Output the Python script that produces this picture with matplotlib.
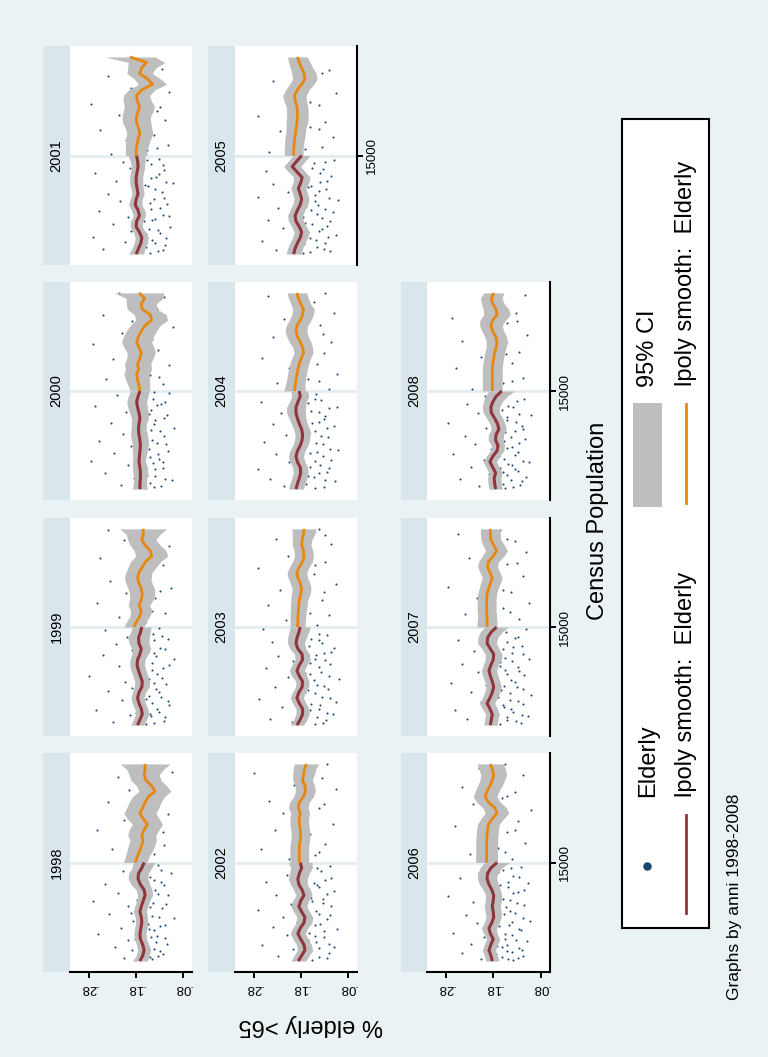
import numpy as np
import matplotlib.pyplot as plt
from matplotlib.patches import Rectangle

plt.rcParams['font.family'] = ['Liberation Sans', 'DejaVu Sans']

# ---------------- data ----------------
years = [1998, 1999, 2000, 2001, 2002, 2003, 2004, 2005, 2006, 2007, 2008]

# population grid of the two local-polynomial fits (below / above 15000)
red_pop = [6000, 6500, 7000, 7500, 8000, 8500, 9000, 9500, 10000, 10500,
           11000, 11500, 12000, 12500, 13000, 13500, 14000, 14500, 15000]
orange_pop = [15000, 15500, 16000, 16500, 17000, 17500, 18000, 18500, 19000, 19500,
              20000, 20500, 21000, 21500, 22000, 22500, 23000, 23500, 24000]

red_fit = {
    1998: [.171, .165, .162, .165, .170, .171, .169, .167, .168, .171, .168, .164, .160, .162, .170, .175, .174, .167, .162],
    1999: [.176, .171, .166, .168, .173, .176, .173, .167, .166, .170, .174, .177, .176, .171, .168, .173, .174, .170, .167],
    2000: [.171, .171, .170, .170, .171, .173, .172, .171, .170, .171, .173, .174, .173, .171, .173, .176, .178, .175, .171],
    2001: [.179, .174, .169, .167, .172, .179, .178, .172, .175, .181, .179, .175, .177, .179, .179, .177, .175, .176, .178],
    2002: [.185, .178, .171, .173, .180, .186, .181, .173, .171, .178, .184, .180, .173, .177, .184, .186, .183, .178, .181],
    2003: [.188, .181, .176, .176, .183, .188, .184, .177, .176, .183, .188, .183, .176, .177, .186, .190, .188, .184, .181],
    2004: [.190, .187, .183, .180, .181, .187, .190, .187, .181, .177, .176, .178, .183, .187, .190, .190, .186, .181, .183],
    2005: [.195, .192, .187, .181, .178, .183, .190, .192, .187, .181, .178, .181, .185, .180, .177, .188, .198, .188, .178],
    2006: [.182, .185, .189, .185, .180, .186, .189, .183, .179, .180, .182, .180, .179, .183, .189, .193, .192, .185, .172],
    2007: [.186, .184, .182, .187, .193, .187, .182, .179, .182, .186, .189, .185, .180, .179, .186, .193, .192, .185, .173],
    2008: [.175, .177, .178, .175, .181, .187, .181, .172, .170, .175, .174, .168, .171, .177, .184, .185, .181, .174, .162],
}
orange_fit = {
    1998: [.181, .177, .172, .168, .164, .167, .162, .155, .164, .171, .165, .160, .153, .139, .146, .158, .162, .160, .160],
    1999: [.184, .178, .171, .168, .173, .168, .166, .168, .173, .176, .173, .166, .159, .146, .149, .160, .167, .164, .164],
    2000: [.171, .173, .176, .178, .174, .176, .171, .168, .173, .178, .174, .168, .160, .146, .149, .166, .168, .161, .173],
    2001: [.179, .179, .177, .175, .171, .174, .178, .179, .175, .172, .177, .178, .167, .144, .155, .172, .167, .157, .192],
    2002: [.183, .183, .183, .183, .181, .180, .181, .183, .183, .181, .185, .183, .174, .170, .171, .176, .174, .172, .168],
    2003: [.187, .186, .186, .185, .184, .183, .180, .178, .181, .186, .188, .183, .176, .173, .174, .178, .177, .174, .173],
    2004: [.193, .192, .190, .188, .186, .183, .179, .174, .176, .181, .187, .190, .188, .181, .176, .174, .180, .185, .188],
    2005: [.195, .195, .194, .193, .191, .190, .188, .187, .187, .188, .192, .193, .187, .178, .171, .173, .178, .183, .187],
    2006: [.194, .194, .194, .194, .194, .193, .192, .190, .182, .172, .177, .190, .197, .193, .187, .182, .179, .182, .186],
    2007: [.193, .193, .193, .194, .194, .194, .193, .190, .186, .182, .187, .192, .190, .180, .173, .179, .185, .186, .186],
    2008: [.182, .182, .182, .182, .182, .181, .179, .177, .174, .172, .175, .181, .185, .181, .172, .174, .181, .184, .179],
}
# half widths of the 95% CI
red_ci = {
    1998: [.016, .014, .014, .013, .013, .013, .013, .013, .013, .014, .014, .014, .016, .017, .020, .021, .021, .021, .023],
    1999: [.014, .014, .014, .014, .014, .014, .014, .016, .016, .016, .016, .016, .016, .017, .020, .021, .023, .021, .020],
    2000: [.016, .014, .014, .016, .016, .014, .014, .016, .017, .018, .018, .016, .016, .018, .020, .021, .021, .021, .020],
    2001: [.016, .014, .014, .014, .013, .013, .013, .013, .014, .014, .013, .013, .013, .014, .014, .014, .014, .016, .018],
    2002: [.016, .016, .016, .016, .016, .016, .016, .017, .017, .017, .017, .017, .017, .018, .018, .020, .021, .023, .025],
    2003: [.014, .014, .014, .014, .014, .014, .014, .014, .014, .016, .016, .016, .016, .016, .017, .018, .020, .021, .021],
    2004: [.016, .016, .016, .016, .016, .016, .016, .016, .016, .016, .016, .017, .017, .018, .020, .020, .018, .018, .018],
    2005: [.016, .016, .016, .016, .016, .016, .016, .016, .016, .016, .016, .016, .016, .017, .017, .018, .018, .018, .018],
    2006: [.014, .014, .014, .014, .014, .014, .016, .016, .016, .017, .017, .017, .017, .018, .020, .020, .021, .023, .027],
    2007: [.014, .014, .014, .016, .016, .016, .016, .016, .016, .016, .016, .016, .017, .018, .018, .020, .021, .023, .025],
    2008: [.014, .014, .014, .014, .014, .014, .014, .014, .014, .016, .016, .016, .016, .017, .017, .018, .020, .023, .027],
}
orange_ci = {
    1998: [.025, .025, .027, .028, .028, .030, .032, .032, .034, .034, .034, .034, .034, .034, .032, .032, .032, .039, .053],
    1999: [.021, .021, .021, .023, .023, .025, .027, .028, .028, .028, .028, .030, .032, .034, .034, .032, .030, .036, .050],
    2000: [.021, .023, .025, .027, .028, .028, .028, .030, .032, .032, .032, .032, .032, .034, .034, .032, .032, .039, .053],
    2001: [.023, .023, .025, .027, .028, .028, .030, .030, .032, .032, .030, .028, .028, .030, .028, .027, .030, .039, .053],
    2002: [.020, .020, .020, .020, .020, .020, .020, .020, .020, .020, .021, .021, .021, .021, .021, .021, .023, .024, .026],
    2003: [.016, .016, .017, .017, .018, .018, .020, .020, .021, .021, .021, .021, .021, .020, .020, .020, .021, .024, .026],
    2004: [.023, .021, .020, .020, .020, .020, .020, .020, .021, .023, .023, .023, .023, .023, .023, .023, .021, .021, .021],
    2005: [.020, .020, .020, .021, .021, .021, .023, .023, .023, .023, .024, .025, .025, .026, .026, .026, .024, .023, .021],
    2006: [.023, .023, .023, .023, .023, .023, .023, .023, .024, .025, .025, .025, .025, .025, .026, .026, .027, .028, .028],
    2007: [.021, .021, .020, .020, .020, .020, .020, .020, .021, .021, .021, .021, .021, .023, .023, .023, .021, .021, .021],
    2008: [.021, .021, .021, .021, .021, .021, .021, .021, .021, .023, .023, .023, .024, .027, .028, .027, .024, .023, .021],
}

# scattered observations: (population in thousands, share elderly)
dots = {
    1998: [(6.3, .205), (6.4, .150), (6.5, .132), (6.6, .121), (6.8, .168), (7.0, .188), (7.1, .142), (7.3, .225), (7.5, .155), (7.7, .137),
           (7.9, .196), (8.1, .118), (8.2, .148), (8.5, .260), (8.7, .176), (8.8, .140), (9.0, .211), (9.2, .129), (9.4, .153), (9.7, .185),
           (9.9, .099), (10.1, .146), (10.3, .236), (10.6, .160), (10.8, .124), (11.0, .197), (11.3, .143), (11.5, .270), (11.8, .151), (12.0, .112),
           (12.2, .218), (12.5, .138), (12.8, .172), (13.0, .245), (13.2, .127), (13.5, .190), (13.7, .150), (14.0, .105), (14.2, .208), (14.5, .158),
           (14.8, .133), (15.3, .198), (15.8, .140), (16.2, .230), (16.6, .120), (17.1, .185), (17.5, .145), (18.0, .262), (18.4, .132), (18.9, .205),
           (19.4, .112), (19.9, .178), (20.5, .240), (21.0, .128), (21.6, .195), (22.2, .150), (22.8, .218), (23.3, .102), (23.8, .170)],
    1999: [(6.2, .140), (6.3, .228), (6.5, .162), (6.7, .118), (6.9, .193), (7.0, .150), (7.2, .131), (7.4, .265), (7.6, .177), (7.8, .108),
           (8.0, .145), (8.3, .210), (8.4, .159), (8.6, .126), (8.9, .184), (9.1, .239), (9.3, .137), (9.5, .170), (9.8, .115), (10.0, .203),
           (10.2, .152), (10.5, .280), (10.7, .134), (10.9, .181), (11.2, .122), (11.4, .215), (11.7, .146), (11.9, .165), (12.1, .098), (12.4, .250),
           (12.6, .141), (12.9, .188), (13.1, .128), (13.4, .222), (13.6, .157), (13.9, .112), (14.1, .199), (14.4, .143), (14.7, .245), (14.9, .130),
           (15.4, .160), (15.9, .215), (16.3, .118), (16.8, .178), (17.2, .262), (17.7, .138), (18.1, .200), (18.6, .105), (19.2, .235), (19.6, .150),
           (20.1, .185), (20.7, .122), (21.3, .255), (21.8, .165), (22.4, .110), (23.0, .205), (23.5, .142), (23.9, .240)],
    2000: [(6.1, .160), (6.3, .127), (6.4, .212), (6.6, .149), (6.8, .103), (7.0, .183), (7.2, .138), (7.5, .245), (7.7, .158), (7.9, .121),
           (8.2, .197), (8.4, .143), (8.6, .275), (8.8, .131), (9.0, .170), (9.3, .226), (9.5, .112), (9.7, .152), (10.0, .190), (10.2, .135),
           (10.4, .258), (10.7, .165), (10.9, .119), (11.1, .207), (11.4, .147), (11.6, .099), (11.9, .178), (12.1, .232), (12.3, .139), (12.6, .161),
           (12.8, .114), (13.1, .201), (13.3, .148), (13.6, .267), (13.8, .126), (14.1, .180), (14.3, .144), (14.6, .219), (14.8, .108), (15.2, .175),
           (15.6, .122), (16.1, .243), (16.5, .150), (17.0, .198), (17.4, .110), (17.9, .228), (18.3, .165), (18.8, .132), (19.3, .270), (19.8, .145),
           (20.3, .210), (20.9, .100), (21.4, .188), (22.0, .250), (22.5, .135), (23.1, .172), (23.6, .120), (24.0, .215)],
    2001: [(6.2, .185), (6.3, .133), (6.5, .250), (6.6, .157), (6.8, .117), (7.1, .203), (7.3, .145), (7.4, .170), (7.6, .272), (7.9, .128),
           (8.1, .190), (8.3, .151), (8.5, .106), (8.7, .229), (9.0, .162), (9.2, .138), (9.4, .196), (9.6, .121), (9.9, .258), (10.1, .148),
           (10.3, .177), (10.6, .113), (10.8, .214), (11.0, .141), (11.3, .168), (11.5, .240), (11.7, .125), (12.0, .186), (12.2, .153), (12.5, .100),
           (12.7, .222), (13.0, .136), (13.2, .174), (13.4, .266), (13.7, .119), (13.9, .193), (14.2, .147), (14.4, .208), (14.7, .130), (15.1, .232),
           (15.5, .155), (16.0, .112), (16.4, .200), (16.9, .140), (17.3, .255), (17.8, .170), (18.2, .118), (18.7, .215), (19.1, .135), (19.7, .275),
           (20.2, .160), (20.8, .108), (21.2, .190), (21.9, .142), (22.3, .238), (22.9, .125), (23.4, .178), (23.8, .205)],
    2002: [(6.2, .172), (6.4, .140), (6.5, .228), (6.7, .120), (6.9, .158), (7.1, .196), (7.3, .110), (7.5, .262), (7.7, .147), (8.0, .183),
           (8.2, .131), (8.4, .210), (8.6, .163), (8.9, .102), (9.1, .240), (9.3, .150), (9.6, .188), (9.8, .125), (10.0, .218), (10.3, .142),
           (10.5, .176), (10.7, .271), (11.0, .115), (11.2, .200), (11.5, .155), (11.7, .133), (12.0, .232), (12.2, .168), (12.4, .108), (12.7, .190),
           (12.9, .145), (13.2, .255), (13.4, .128), (13.7, .180), (13.9, .210), (14.2, .137), (14.4, .162), (14.7, .118), (15.3, .205), (15.7, .150),
           (16.2, .265), (16.7, .128), (17.1, .190), (17.6, .160), (18.0, .235), (18.5, .112), (19.0, .178), (19.5, .218), (20.0, .140), (20.6, .248),
           (21.1, .170), (21.7, .105), (22.1, .195), (22.7, .135), (23.2, .280), (23.7, .158), (24.0, .125)],
    2003: [(6.1, .150), (6.3, .198), (6.5, .127), (6.6, .245), (6.8, .166), (7.0, .112), (7.3, .185), (7.5, .141), (7.7, .220), (7.9, .158),
           (8.1, .104), (8.4, .268), (8.6, .134), (8.8, .192), (9.0, .170), (9.3, .122), (9.5, .235), (9.7, .146), (10.0, .180), (10.2, .099),
           (10.4, .207), (10.7, .160), (10.9, .137), (11.2, .255), (11.4, .175), (11.6, .118), (11.9, .196), (12.1, .149), (12.3, .228), (12.6, .130),
           (12.8, .186), (13.1, .108), (13.3, .163), (13.6, .242), (13.8, .140), (14.1, .202), (14.3, .125), (14.6, .172), (14.8, .260), (15.2, .145),
           (15.6, .212), (16.1, .120), (16.6, .185), (17.0, .250), (17.5, .135), (18.0, .170), (18.4, .225), (18.9, .105), (19.4, .195), (19.9, .152),
           (20.4, .270), (21.0, .128), (21.5, .208), (22.0, .162), (22.6, .115), (23.1, .232), (23.6, .180), (24.0, .140)],
    2004: [(6.2, .130), (6.3, .215), (6.5, .168), (6.7, .107), (6.9, .245), (7.1, .152), (7.3, .190), (7.6, .125), (7.8, .270), (8.0, .160),
           (8.2, .138), (8.5, .205), (8.7, .115), (8.9, .178), (9.2, .232), (9.4, .145), (9.6, .100), (9.9, .195), (10.1, .133), (10.3, .258),
           (10.6, .170), (10.8, .121), (11.0, .212), (11.3, .150), (11.5, .185), (11.8, .109), (12.0, .240), (12.2, .142), (12.5, .176), (12.7, .128),
           (13.0, .221), (13.2, .159), (13.5, .103), (13.7, .198), (14.0, .265), (14.2, .136), (14.5, .182), (14.7, .148), (15.2, .120), (15.7, .230),
           (16.1, .165), (16.6, .102), (17.1, .205), (17.5, .145), (18.0, .262), (18.5, .130), (19.0, .188), (19.5, .115), (20.0, .240), (20.5, .172),
           (21.1, .138), (21.6, .215), (22.2, .110), (22.6, .195), (23.2, .152), (23.7, .250), (24.0, .128)],
    2005: [(6.1, .175), (6.3, .118), (6.4, .232), (6.6, .146), (6.8, .200), (7.0, .129), (7.2, .262), (7.5, .160), (7.7, .105), (7.9, .188),
           (8.1, .140), (8.4, .218), (8.6, .124), (8.8, .170), (9.1, .250), (9.3, .135), (9.5, .195), (9.8, .112), (10.0, .158), (10.2, .228),
           (10.5, .143), (10.7, .180), (10.9, .100), (11.2, .272), (11.4, .150), (11.7, .208), (11.9, .127), (12.1, .165), (12.4, .238), (12.6, .139),
           (12.9, .192), (13.1, .116), (13.3, .175), (13.6, .255), (13.8, .132), (14.1, .210), (14.3, .152), (14.6, .108), (14.8, .185), (15.3, .248),
           (15.8, .135), (16.2, .195), (16.7, .112), (17.2, .225), (17.6, .160), (18.1, .128), (18.6, .270), (19.1, .175), (19.6, .140), (20.1, .212),
           (20.7, .105), (21.2, .185), (21.8, .240), (22.3, .150), (22.8, .120), (23.3, .200), (23.8, .168)],
    2006: [(6.1, .138), (6.2, .205), (6.4, .162), (6.5, .118), (6.7, .245), (6.9, .150), (7.1, .185), (7.2, .126), (7.4, .172), (7.6, .228),
           (7.8, .108), (8.0, .156), (8.2, .199), (8.4, .140), (8.6, .265), (8.8, .121), (9.0, .178), (9.3, .147), (9.5, .215), (9.7, .102),
           (10.0, .167), (10.2, .238), (10.4, .133), (10.7, .190), (10.9, .154), (11.1, .115), (11.4, .222), (11.6, .145), (11.9, .275), (12.1, .168),
           (12.3, .128), (12.6, .200), (12.8, .148), (13.1, .106), (13.3, .186), (13.6, .250), (13.8, .138), (14.0, .210), (14.3, .160), (14.6, .122),
           (14.8, .195), (15.3, .140), (15.8, .230), (16.3, .170), (16.8, .112), (17.3, .205), (17.8, .150), (18.3, .260), (18.8, .128), (19.3, .188),
           (19.8, .100), (20.3, .222), (20.9, .162), (21.4, .135), (21.9, .245), (22.5, .180), (23.0, .118), (23.6, .210), (24.0, .155)],
    2007: [(6.2, .122), (6.3, .188), (6.5, .150), (6.6, .235), (6.8, .107), (7.0, .170), (7.2, .138), (7.4, .260), (7.7, .158), (7.9, .118),
           (8.1, .205), (8.3, .145), (8.5, .180), (8.8, .101), (9.0, .228), (9.2, .163), (9.5, .130), (9.7, .195), (9.9, .270), (10.1, .142),
           (10.4, .176), (10.6, .115), (10.9, .212), (11.1, .155), (11.3, .128), (11.6, .245), (11.8, .166), (12.1, .104), (12.3, .190), (12.6, .140),
           (12.8, .220), (13.0, .160), (13.3, .120), (13.5, .182), (13.8, .255), (14.0, .135), (14.3, .200), (14.5, .152), (14.8, .110), (15.2, .185),
           (15.7, .125), (16.2, .240), (16.7, .160), (17.2, .105), (17.7, .215), (18.2, .142), (18.7, .275), (19.2, .170), (19.7, .118), (20.2, .198),
           (20.8, .150), (21.3, .232), (21.9, .110), (22.4, .180), (22.9, .135), (23.5, .255), (23.9, .165)],
    2008: [(6.1, .155), (6.3, .210), (6.4, .124), (6.6, .178), (6.8, .142), (6.9, .250), (7.1, .110), (7.4, .190), (7.6, .160), (7.8, .133),
           (8.0, .228), (8.3, .148), (8.5, .105), (8.7, .200), (9.0, .168), (9.2, .265), (9.4, .128), (9.7, .185), (9.9, .140), (10.1, .218),
           (10.4, .158), (10.6, .112), (10.9, .240), (11.1, .172), (11.3, .135), (11.6, .195), (11.8, .120), (12.1, .275), (12.3, .150), (12.5, .182),
           (12.8, .100), (13.0, .212), (13.3, .162), (13.5, .138), (13.8, .235), (14.0, .175), (14.3, .115), (14.5, .198), (14.8, .145), (15.2, .225),
           (15.7, .160), (16.2, .118), (16.6, .190), (17.1, .258), (17.6, .140), (18.1, .205), (18.6, .125), (19.0, .172), (19.6, .245), (20.1, .108),
           (20.6, .180), (21.2, .150), (21.7, .268), (22.2, .132), (22.8, .200), (23.3, .165), (23.8, .112)],
}
# further observations, mostly the dense small-town cloud near the fit
dots_more = {
    1998: [(6.2, .145), (6.5, .175), (6.9, .128), (7.2, .160), (7.6, .113), (8.0, .182), (8.3, .135), (8.9, .152), (9.3, .117), (9.6, .166),
           (10.0, .130), (10.4, .190), (10.9, .149), (11.2, .115), (11.6, .178), (12.1, .133), (12.6, .155), (12.9, .120), (13.4, .142), (13.9, .168),
           (14.3, .126), (14.7, .180), (16.0, .160), (17.8, .122), (19.7, .150), (21.3, .170), (23.0, .135)],
    1999: [(6.1, .158), (6.4, .120), (6.8, .147), (7.1, .180), (7.5, .135), (7.9, .162), (8.2, .112), (8.7, .152), (9.0, .130), (9.4, .188),
           (9.9, .142), (10.3, .124), (10.8, .160), (11.1, .145), (11.5, .110), (11.8, .175), (12.3, .136), (12.7, .154), (13.0, .118), (13.5, .168),
           (13.8, .140), (14.2, .125), (14.6, .158), (16.5, .145), (18.3, .128), (20.4, .162), (22.7, .140)],
    2000: [(6.2, .142), (6.5, .176), (6.9, .118), (7.3, .155), (7.8, .138), (8.1, .165), (8.5, .122), (8.9, .150), (9.2, .133), (9.6, .178),
           (10.1, .115), (10.5, .145), (10.8, .158), (11.3, .128), (11.7, .170), (12.0, .140), (12.5, .120), (12.9, .152), (13.2, .175), (13.7, .135),
           (14.0, .118), (14.4, .162), (14.9, .140), (16.3, .130), (18.6, .158), (20.6, .140), (23.3, .150)],
    2001: [(6.1, .150), (6.4, .122), (6.7, .168), (7.0, .138), (7.5, .115), (7.8, .158), (8.2, .132), (8.6, .175), (9.1, .145), (9.5, .110),
           (9.8, .163), (10.2, .128), (10.7, .150), (11.1, .120), (11.4, .182), (11.9, .138), (12.3, .160), (12.6, .115), (12.9, .148), (13.3, .130),
           (13.8, .165), (14.1, .122), (14.6, .155), (15.7, .135), (17.6, .150), (19.4, .128), (22.0, .160)],
    2002: [(6.1, .155), (6.3, .125), (6.8, .178), (7.2, .142), (7.6, .120), (7.9, .165), (8.3, .150), (8.7, .130), (9.0, .172), (9.4, .138),
           (9.9, .160), (10.2, .118), (10.6, .148), (10.9, .185), (11.3, .132), (11.8, .158), (12.1, .124), (12.5, .170), (12.8, .140), (13.1, .152),
           (13.6, .116), (14.0, .175), (14.5, .145), (16.0, .140), (17.9, .168), (20.3, .130), (22.9, .165)],
    2003: [(6.2, .132), (6.4, .170), (6.7, .145), (7.1, .125), (7.4, .160), (7.8, .138), (8.2, .178), (8.5, .118), (8.9, .150), (9.2, .165),
           (9.6, .130), (10.1, .152), (10.5, .120), (10.8, .170), (11.3, .142), (11.7, .160), (12.0, .128), (12.4, .148), (12.7, .115), (13.2, .172),
           (13.5, .135), (13.9, .158), (14.4, .140), (16.3, .160), (18.2, .130), (20.7, .150), (23.4, .128)],
    2004: [(6.1, .150), (6.4, .182), (6.8, .128), (7.2, .165), (7.5, .140), (7.9, .120), (8.3, .172), (8.6, .150), (9.0, .132), (9.3, .160),
           (9.7, .118), (10.2, .148), (10.5, .180), (10.9, .136), (11.2, .162), (11.6, .125), (12.1, .155), (12.4, .130), (12.8, .175), (13.1, .142),
           (13.4, .120), (13.9, .165), (14.3, .150), (15.9, .140), (17.8, .172), (20.2, .132), (22.4, .155)],
    2005: [(6.2, .160), (6.5, .130), (6.9, .172), (7.3, .148), (7.6, .122), (8.0, .165), (8.3, .135), (8.7, .155), (9.0, .118), (9.4, .175),
           (9.7, .145), (10.1, .128), (10.4, .168), (10.8, .150), (11.1, .120), (11.5, .180), (11.8, .142), (12.2, .158), (12.7, .125), (13.0, .165),
           (13.4, .138), (13.9, .155), (14.4, .128), (15.6, .170), (17.4, .140), (19.9, .160), (22.5, .135)],
    2006: [(6.2, .148), (6.3, .128), (6.6, .175), (6.8, .140), (7.0, .120), (7.3, .162), (7.5, .150), (7.9, .132), (8.1, .178), (8.5, .155),
           (8.9, .125), (9.2, .168), (9.6, .140), (9.9, .118), (10.3, .158), (10.6, .145), (11.0, .172), (11.3, .130), (11.7, .160), (12.2, .138),
           (12.5, .115), (12.9, .165), (13.2, .148), (13.7, .125), (14.1, .170), (14.5, .142), (16.0, .155), (18.0, .135), (21.1, .150)],
    2007: [(6.1, .165), (6.4, .132), (6.7, .150), (6.9, .120), (7.1, .178), (7.5, .142), (7.8, .160), (8.2, .128), (8.6, .170), (8.9, .145),
           (9.3, .118), (9.6, .158), (10.0, .135), (10.3, .175), (10.7, .150), (11.0, .125), (11.4, .165), (11.9, .140), (12.2, .155), (12.5, .118),
           (12.9, .172), (13.2, .138), (13.6, .150), (14.1, .128), (14.6, .168), (16.4, .145), (18.4, .160), (20.9, .130), (23.1, .150)],
    2008: [(6.2, .138), (6.5, .160), (6.7, .120), (7.0, .172), (7.3, .150), (7.7, .128), (7.9, .165), (8.2, .140), (8.6, .118), (8.8, .158),
           (9.1, .135), (9.5, .175), (9.8, .150), (10.2, .125), (10.5, .168), (10.8, .142), (11.2, .155), (11.5, .118), (11.9, .170), (12.2, .132),
           (12.6, .150), (12.9, .125), (13.2, .178), (13.6, .148), (14.1, .130), (14.6, .160), (15.9, .140), (18.4, .152), (21.4, .130)],
}

elderly_ticks = [.28, .18, .08]
elderly_tick_labels = ['.28', '.18', '.08']
pop_ticks = [15000]
pop_tick_labels = ['15000']
cutoff = 15000

# ---------------- layout (figure is drawn turned 90 degrees) ----------------
W, H = 768, 1057
BG = '#EAF2F3'
STRIP = '#D9E6EB'
NAVY = '#1A476F'
MAROON = '#90353B'
ORANGE = '#E8870E'
CI_GREY = '#BEBEBE'

fig = plt.figure(figsize=(7.68, 10.57), dpi=100, facecolor=BG)


def box(x0, y0, x1, y1):
    return [x0 / W, 1 - y1 / H, (x1 - x0) / W, (y1 - y0) / H]


col_strip = {1: (43, 70), 2: (208, 235), 3: (401, 427)}
col_plot = {1: (70, 192), 2: (235, 357), 3: (427, 550)}
row_span = {'A': (46, 265), 'B': (282, 500), 'C': (518, 736), 'D': (753, 972)}
panel_pos = {2001: (1, 'A'), 2000: (1, 'B'), 1999: (1, 'C'), 1998: (1, 'D'),
             2005: (2, 'A'), 2004: (2, 'B'), 2003: (2, 'C'), 2002: (2, 'D'),
             2008: (3, 'B'), 2007: (3, 'C'), 2006: (3, 'D')}
pop_axis_years = [2005, 2006, 2007, 2008]
eld_axis_years = [1998, 2002, 2006]

for yr in years:
    c, r = panel_pos[yr]
    ry0, ry1 = row_span[r]

    sx = fig.add_axes(box(col_strip[c][0], ry0, col_strip[c][1], ry1))
    sx.set_facecolor(STRIP)
    sx.set_xticks([])
    sx.set_yticks([])
    for s in sx.spines.values():
        s.set_visible(False)
    sx.text(0.5, 0.5, str(yr), rotation=90, ha='center', va='center', fontsize=10.5,
            transform=sx.transAxes)

    ax = fig.add_axes(box(col_plot[c][0], ry0, col_plot[c][1], ry1))
    ax.set_facecolor('white')
    ax.axhline(cutoff, color='#E3EDEF', lw=2, zorder=1)

    pts = np.array(dots[yr] + dots_more[yr])
    ax.scatter(pts[:, 1], pts[:, 0] * 1000, s=2.2, color=NAVY, linewidths=0, zorder=1.5)

    rf = np.array(red_fit[yr])
    rc = np.array(red_ci[yr])
    of = np.array(orange_fit[yr])
    oc = np.array(orange_ci[yr])
    ax.fill_betweenx(red_pop, rf - rc, rf + rc, color=CI_GREY, lw=0, zorder=2)
    ax.fill_betweenx(orange_pop, of - oc, of + oc, color=CI_GREY, lw=0, zorder=2)
    ax.plot(rf, red_pop, color=MAROON, lw=2.2, zorder=3, solid_capstyle='butt')
    ax.plot(of, orange_pop, color=ORANGE, lw=2.0, zorder=3, solid_capstyle='butt')

    ax.set_xlim(0.32, 0.06)
    ax.set_ylim(5000, 25000)
    for s in ax.spines.values():
        s.set_visible(False)

    if yr in eld_axis_years:
        ax.spines['bottom'].set_visible(True)
        ax.spines['bottom'].set_linewidth(1.5)
        ax.set_xticks(elderly_ticks)
        ax.set_xticklabels(elderly_tick_labels, rotation=180, fontsize=9.5)
        ax.tick_params(axis='x', length=4.5, width=1.4, pad=3)
    else:
        ax.set_xticks([])

    if yr in pop_axis_years:
        ax.spines['right'].set_visible(True)
        ax.spines['right'].set_linewidth(1.5)
        ax.yaxis.tick_right()
        ax.set_yticks(pop_ticks)
        ax.set_yticklabels(pop_tick_labels, rotation=90, va='center', fontsize=9.5)
        ax.tick_params(axis='y', length=4.5, width=1.4, pad=2)
    else:
        ax.set_yticks([])

# ---------------- legend ----------------
lx = fig.add_axes(box(622, 119, 709, 928))
lx.set_xlim(622, 709)
lx.set_ylim(928, 119)
lx.set_facecolor('white')
lx.set_xticks([])
lx.set_yticks([])
for s in lx.spines.values():
    s.set_linewidth(1.5)
    s.set_color('black')

lx.scatter([647], [866], s=26, color=NAVY, zorder=3)
lx.text(648, 797, 'Elderly', rotation=90, rotation_mode='anchor', ha='left', va='center', fontsize=17)
lx.plot([686, 686], [815, 913], color=MAROON, lw=2)
lx.text(686, 797, 'lpoly smooth:  Elderly', rotation=90, rotation_mode='anchor', ha='left', va='center', fontsize=17)
lx.add_patch(Rectangle((633, 403), 29, 104, color=CI_GREY, lw=0))
lx.text(648, 387, '95% CI', rotation=90, rotation_mode='anchor', ha='left', va='center', fontsize=17)
lx.plot([686, 686], [404, 503], color=ORANGE, lw=2)
lx.text(686, 386, 'lpoly smooth:  Elderly', rotation=90, rotation_mode='anchor', ha='left', va='center', fontsize=17)

# ---------------- titles ----------------
fig.text(598 / W, 1 - 521 / H, 'Census Population', rotation=90, ha='center', va='center', fontsize=17)
fig.text(311 / W, 1 - 1025 / H, '% elderly >65', rotation=180, ha='center', va='center', fontsize=17)
fig.text(735 / W, 1 - 897 / H, 'Graphs by anni 1998-2008', rotation=90, ha='center', va='center', fontsize=12.5)

fig.savefig('out.png', dpi=100, facecolor=BG)
